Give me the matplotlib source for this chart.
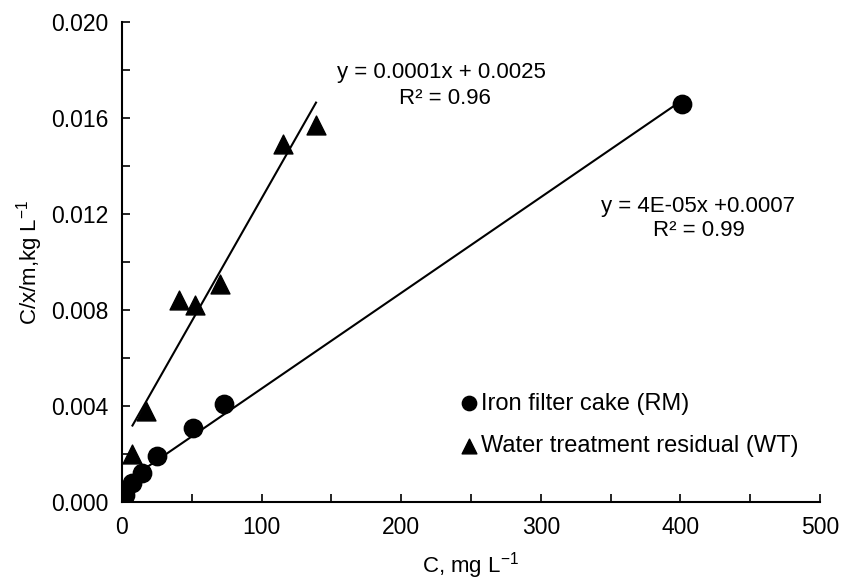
import numpy as np
import matplotlib.pyplot as plt
from matplotlib.ticker import MultipleLocator

plt.rcParams['font.family'] = ['Liberation Sans', 'DejaVu Sans']
plt.rcParams['mathtext.fontset'] = 'custom'
plt.rcParams['mathtext.rm'] = 'Liberation Sans'
plt.rcParams['mathtext.it'] = 'Liberation Sans:italic'

# iron filter cake (RM)
rm_c = [2, 7, 14, 25, 51, 73, 401]
rm_y = [0.0003, 0.0008, 0.0012, 0.0019, 0.0031, 0.0041, 0.0166]

# water treatment residual (WT)
wt_c = [7.5, 17, 41, 52, 70, 115, 139]
wt_y = [0.0020, 0.0038, 0.0084, 0.0082, 0.0091, 0.0149, 0.0157]

rm_label = 'Iron filter cake (RM)'
wt_label = 'Water treatment residual (WT)'

fs = 16

fig = plt.figure(figsize=(8.46, 5.82), dpi=100)
ax = fig.add_axes([0.1442, 0.1375, 0.825, 0.8247])

ax.scatter(rm_c, rm_y, s=175, marker='o', color='black', label=rm_label, zorder=3)
ax.scatter(wt_c, wt_y, s=185, marker='^', color='black', label=wt_label, zorder=3)

# linear trendlines over the data range
for xs, ys in ((rm_c, rm_y), (wt_c, wt_y)):
    k, b = np.polyfit(xs, ys, 1)
    xx = np.array([min(xs), max(xs)])
    ax.plot(xx, k * xx + b, color='black', lw=1.5, zorder=2)

ax.text(229, 0.0179, 'y = 0.0001x + 0.0025', fontsize=fs, ha='center', va='center')
ax.text(231, 0.0168, 'R² = 0.96', fontsize=fs, ha='center', va='center')
ax.text(413, 0.0123, 'y = 4E-05x +0.0007', fontsize=fs, ha='center', va='center')
ax.text(413, 0.0113, 'R² = 0.99', fontsize=fs, ha='center', va='center')

ax.set_xlim(0, 500)
ax.set_ylim(0, 0.020)
ax.xaxis.set_major_locator(MultipleLocator(100))
ax.xaxis.set_minor_locator(MultipleLocator(50))
ax.yaxis.set_major_locator(MultipleLocator(0.004))
ax.yaxis.set_minor_locator(MultipleLocator(0.002))
ax.yaxis.set_major_formatter(lambda v, p: f'{v:.3f}')
ax.tick_params(which='both', direction='in', width=1.2, labelsize=16.5)
ax.tick_params(which='major', length=6, pad=10)
ax.tick_params(which='minor', length=6)

for s in ('top', 'right'):
    ax.spines[s].set_visible(False)
for s in ('left', 'bottom'):
    ax.spines[s].set_linewidth(1.5)

ax.set_xlabel('C, mg L$^{-1}$', fontsize=fs, labelpad=8)
ax.set_ylabel('C/x/m,kg L$^{-1}$', fontsize=fs, labelpad=4)

ax.legend(loc='lower left', bbox_to_anchor=(0.45, 0.05), frameon=False, fontsize=17,
          handletextpad=0.0, markerscale=0.78, labelspacing=0.85, handlelength=1.0)

fig.savefig('out.png', dpi=100)
